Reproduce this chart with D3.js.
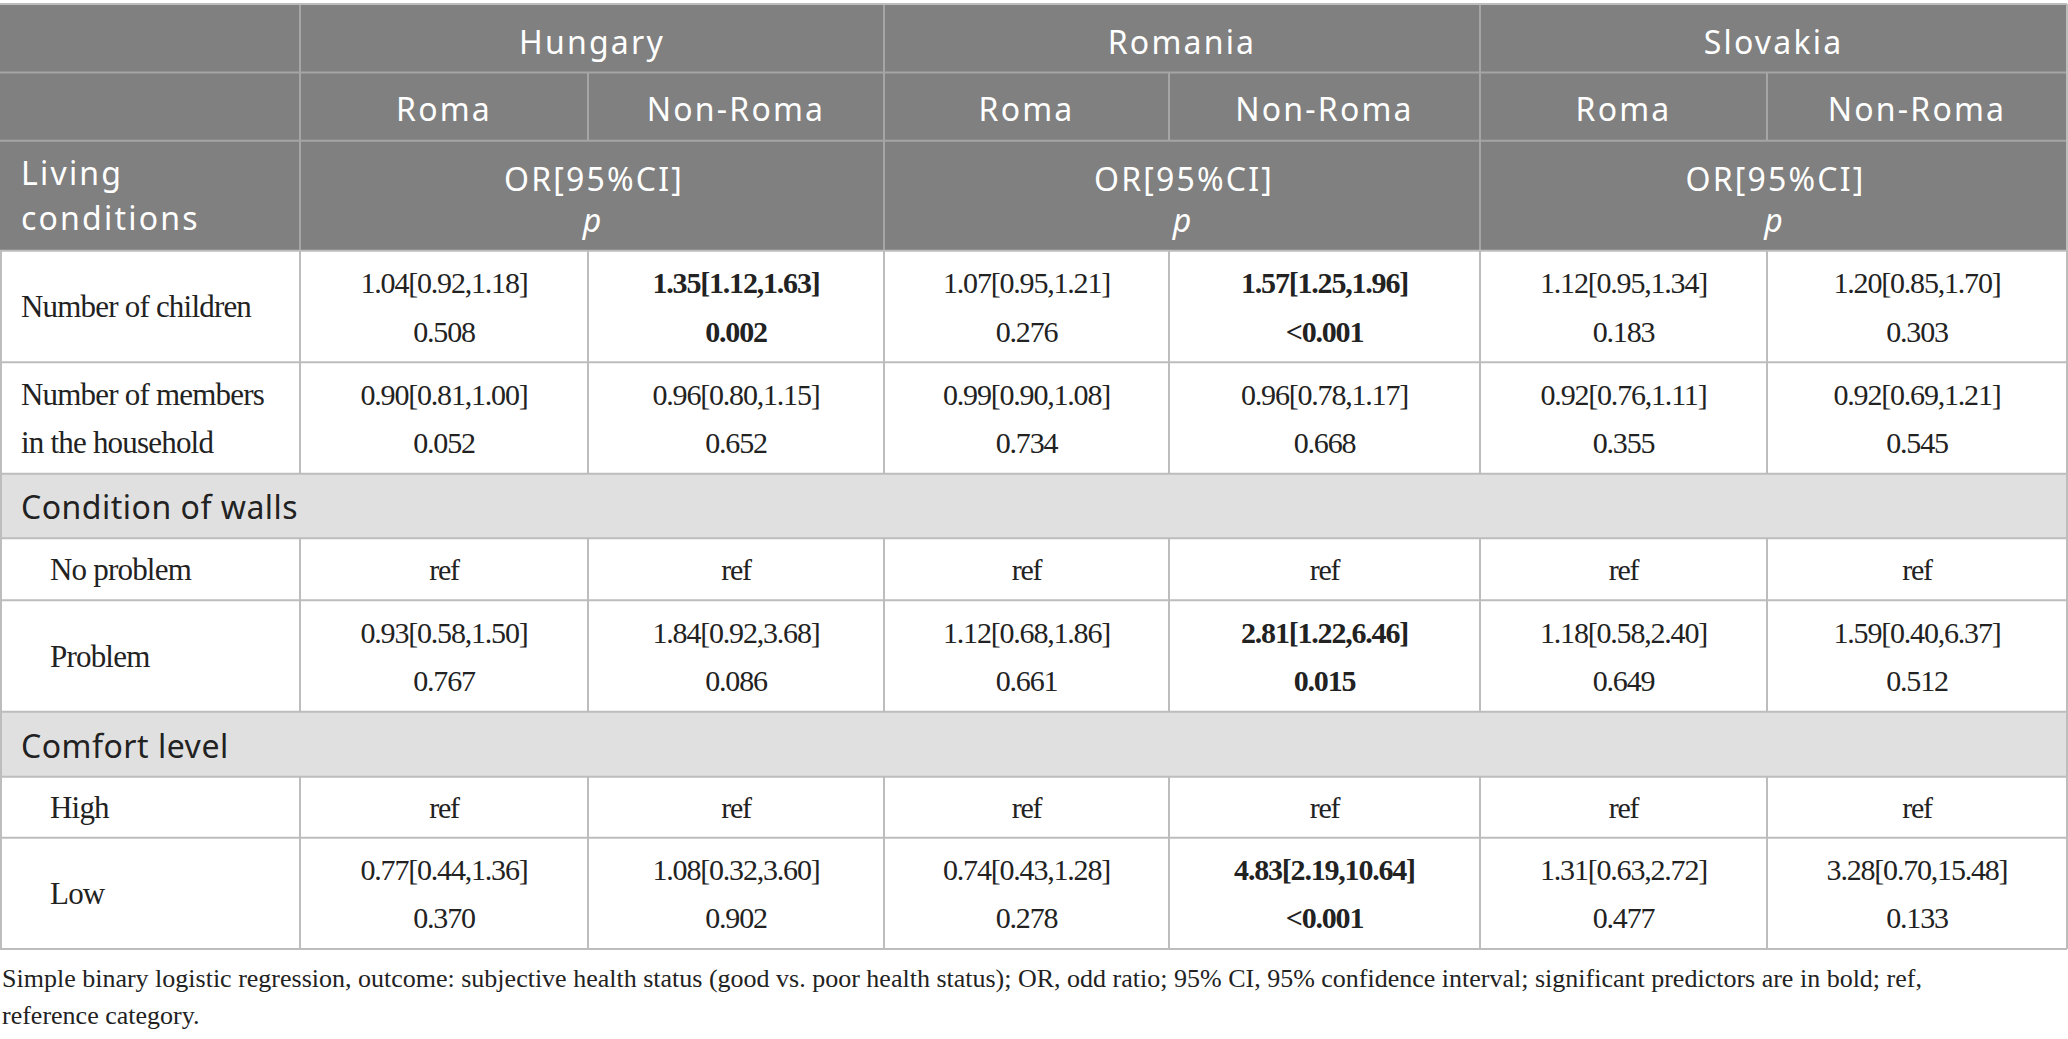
<!DOCTYPE html>
<html>
<head>
<meta charset="utf-8">
<script src="https://cdn.jsdelivr.net/npm/d3@7"></script>
<style>
  html, body { margin: 0; padding: 0; background: #fff; }
  svg { display: block; }
</style>
</head>
<body>
<div id="chart"></div>
<script>
// table content
const countries = ["Hungary", "Romania", "Slovakia"];
const groups = ["Roma", "Non-Roma"];
const statHeader = ["OR[95%CI]", "p"];
const cornerLabel = ["Living", "conditions"];

const childrenOR = ["1.04[0.92,1.18]", "1.35[1.12,1.63]", "1.07[0.95,1.21]", "1.57[1.25,1.96]", "1.12[0.95,1.34]", "1.20[0.85,1.70]"];
const childrenP  = ["0.508", "0.002", "0.276", "<0.001", "0.183", "0.303"];
const membersOR  = ["0.90[0.81,1.00]", "0.96[0.80,1.15]", "0.99[0.90,1.08]", "0.96[0.78,1.17]", "0.92[0.76,1.11]", "0.92[0.69,1.21]"];
const membersP   = ["0.052", "0.652", "0.734", "0.668", "0.355", "0.545"];
const wallsOR    = ["0.93[0.58,1.50]", "1.84[0.92,3.68]", "1.12[0.68,1.86]", "2.81[1.22,6.46]", "1.18[0.58,2.40]", "1.59[0.40,6.37]"];
const wallsP     = ["0.767", "0.086", "0.661", "0.015", "0.649", "0.512"];
const comfortOR  = ["0.77[0.44,1.36]", "1.08[0.32,3.60]", "0.74[0.43,1.28]", "4.83[2.19,10.64]", "1.31[0.63,2.72]", "3.28[0.70,15.48]"];
const comfortP   = ["0.370", "0.902", "0.278", "<0.001", "0.477", "0.133"];

const footnote = [
  "Simple binary logistic regression, outcome: subjective health status (good vs. poor health status); OR, odd ratio; 95% CI, 95% confidence interval; significant predictors are in bold; ref,",
  "reference category."
];

// body rows: kind = main / section / sub
const rows = [
  {key: "children", kind: "main",    label: ["Number of children"], or: childrenOR, p: childrenP},
  {key: "members",  kind: "main",    label: ["Number of members", "in the household"], or: membersOR, p: membersP},
  {key: "walls",    kind: "section", label: ["Condition of walls"]},
  {key: "noprob",   kind: "sub",     label: ["No problem"], ref: true},
  {key: "prob",     kind: "sub",     label: ["Problem"], or: wallsOR, p: wallsP},
  {key: "comfort",  kind: "section", label: ["Comfort level"]},
  {key: "high",     kind: "sub",     label: ["High"], ref: true},
  {key: "low",      kind: "sub",     label: ["Low"], or: comfortOR, p: comfortP}
];

const W = 2068, H = 1039;
const headGray = "#7f807f", headLine = "#a4a5a4", gridCol = "#bdbdbd", sectionBg = "#e1e0e1", ink = "#222";
const sansFont = "'Noto Sans', 'Open Sans', sans-serif";
const serifFont = "'Liberation Serif', 'DejaVu Serif', serif";

// column scale: label column + 6 value columns
const colKeys = ["label", "c0", "c1", "c2", "c3", "c4", "c5", "end"];
const x = d3.scaleOrdinal().domain(colKeys).range([0, 300, 588, 884, 1169, 1480, 1767, 2067]);
const colStart = i => x(colKeys[i + 1]);
const colEnd = i => x(colKeys[i + 2]);

// row scale
const rowKeys = ["h1", "h2", "h3", ...rows.map(r => r.key), "end"];
const y = d3.scaleOrdinal().domain(rowKeys)
  .range([4, 72.5, 140.7, 250.7, 362.3, 473.7, 538.2, 600.3, 711.8, 776.7, 837.7, 949]);
const rowTop = k => y(k);
const rowBottom = k => y(rowKeys[rowKeys.indexOf(k) + 1]);

const svg = d3.select("#chart").append("svg")
  .attr("width", W).attr("height", H)
  .attr("viewBox", [0, 0, W, H]);

// ---- header block
const head = svg.append("g");
head.append("rect")
  .attr("x", x("label")).attr("y", y("h1"))
  .attr("width", x("end") - x("label")).attr("height", y("children") - y("h1"))
  .attr("fill", headGray);

const headLines = head.append("g").attr("stroke", headLine).attr("stroke-width", 2);
headLines.selectAll("line.h").data(["h1", "h2", "h3"]).join("line")
  .attr("x1", x("label")).attr("x2", x("end"))
  .attr("y1", d => y(d)).attr("y2", d => y(d));
// country separators through all header rows
headLines.selectAll("line.c").data([0, 2, 4]).join("line")
  .attr("x1", d => colStart(d)).attr("x2", d => colStart(d))
  .attr("y1", y("h1")).attr("y2", y("children"));
// group separators, second row only
headLines.selectAll("line.g").data([1, 3, 5]).join("line")
  .attr("x1", d => colStart(d)).attr("x2", d => colStart(d))
  .attr("y1", y("h2")).attr("y2", y("h3"));

const headText = head.append("g")
  .attr("fill", "#fff")
  .attr("font-family", sansFont)
  .attr("font-size", 32)
  .attr("letter-spacing", "2.2px");

headText.selectAll("text.country").data(countries).join("text")
  .attr("x", (d, i) => (colStart(i * 2) + colEnd(i * 2 + 1)) / 2)
  .attr("y", y("h1") + 50)
  .attr("text-anchor", "middle")
  .text(d => d);

headText.selectAll("text.group").data(d3.cross(countries, groups)).join("text")
  .attr("x", (d, i) => (colStart(i) + colEnd(i)) / 2)
  .attr("y", y("h2") + 48.5)
  .attr("text-anchor", "middle")
  .text(d => d[1]);

headText.selectAll("text.corner").data(cornerLabel).join("text")
  .attr("x", 21)
  .attr("y", (d, i) => y("h3") + 44.5 + i * 45)
  .text(d => d);

countries.forEach((c, ci) => {
  const cx = (colStart(ci * 2) + colEnd(ci * 2 + 1)) / 2;
  headText.append("text")
    .attr("x", cx + 2).attr("y", y("h3") + 50)
    .attr("text-anchor", "middle")
    .text(statHeader[0]);
  headText.append("text")
    .attr("x", cx).attr("y", y("h3") + 91)
    .attr("text-anchor", "middle")
    .attr("font-style", "italic")
    .attr("letter-spacing", "0px")
    .text(statHeader[1]);
});

// ---- body
const body = svg.append("g");
const isSig = p => p.startsWith("<") || parseFloat(p) < 0.05;

rows.forEach(r => {
  const top = rowTop(r.key), bot = rowBottom(r.key), mid = (top + bot) / 2;
  const g = body.append("g");

  if (r.kind === "section") {
    g.append("rect")
      .attr("x", x("label")).attr("y", top)
      .attr("width", x("end") - x("label")).attr("height", bot - top)
      .attr("fill", sectionBg);
    g.append("text")
      .attr("x", 21).attr("y", mid + 13.5)
      .attr("font-family", sansFont).attr("font-size", 32)
      .attr("letter-spacing", "0.5px")
      .attr("fill", ink)
      .text(r.label[0]);
    return;
  }

  g.selectAll("rect").data(d3.range(-1, 6)).join("rect")
    .attr("x", i => i < 0 ? x("label") : colStart(i))
    .attr("y", top)
    .attr("width", i => i < 0 ? colStart(0) - x("label") : colEnd(i) - colStart(i))
    .attr("height", bot - top)
    .attr("fill", "#fff");

  // row label
  const lx = r.kind === "sub" ? 50 : 21;
  g.selectAll("text.lab").data(r.label).join("text")
    .attr("class", "lab")
    .attr("x", lx)
    .attr("y", (d, i, a) => a.length > 1 ? mid - 13.5 + i * 48.5 : mid + 10.5)
    .attr("font-family", serifFont).attr("font-size", 31)
    .attr("letter-spacing", "-0.8px")
    .attr("fill", ink)
    .text(d => d);

  const vals = g.append("g")
    .attr("font-family", serifFont).attr("font-size", 30)
    .attr("letter-spacing", "-1.2px")
    .attr("fill", ink).attr("text-anchor", "middle");

  if (r.ref) {
    vals.selectAll("text").data(d3.range(6)).join("text")
      .attr("x", i => (colStart(i) + colEnd(i)) / 2)
      .attr("y", mid + 10.5)
      .text("ref");
  } else {
    vals.selectAll("text.or").data(r.or).join("text")
      .attr("class", "or")
      .attr("x", (d, i) => (colStart(i) + colEnd(i)) / 2)
      .attr("y", mid - 13.5)
      .attr("font-weight", (d, i) => isSig(r.p[i]) ? "bold" : null)
      .text(d => d);
    vals.selectAll("text.p").data(r.p).join("text")
      .attr("class", "p")
      .attr("x", (d, i) => (colStart(i) + colEnd(i)) / 2)
      .attr("y", mid + 35)
      .attr("font-weight", d => isSig(d) ? "bold" : null)
      .text(d => d);
  }
});

// body grid lines
const grid = svg.append("g").attr("stroke", gridCol).attr("stroke-width", 2).attr("fill", "none");
const bodyKeys = [...rows.map(r => r.key), "end"];
grid.selectAll("line.h").data(bodyKeys).join("line")
  .attr("x1", x("label")).attr("x2", x("end"))
  .attr("y1", d => y(d)).attr("y2", d => y(d));
rows.filter(r => r.kind !== "section").forEach(r => {
  grid.selectAll(null).data(d3.range(0, 7)).join("line")
    .attr("x1", i => i < 6 ? colStart(i) : x("end"))
    .attr("x2", i => i < 6 ? colStart(i) : x("end"))
    .attr("y1", rowTop(r.key)).attr("y2", rowBottom(r.key));
});
// outer edges
grid.append("line").attr("x1", 1).attr("x2", 1).attr("y1", y("children")).attr("y2", y("end"));
grid.append("line").attr("x1", x("end")).attr("x2", x("end")).attr("y1", y("h1")).attr("y2", y("end"));
grid.append("line").attr("x1", x("label")).attr("x2", x("end")).attr("y1", y("h1")).attr("y2", y("h1"));

// ---- footnote
svg.append("g")
  .attr("font-family", serifFont).attr("font-size", 26).attr("fill", ink)
  .selectAll("text").data(footnote).join("text")
  .attr("x", 2)
  .attr("y", (d, i) => 987.3 + i * 36.7)
  .text(d => d);
</script>
</body>
</html>
